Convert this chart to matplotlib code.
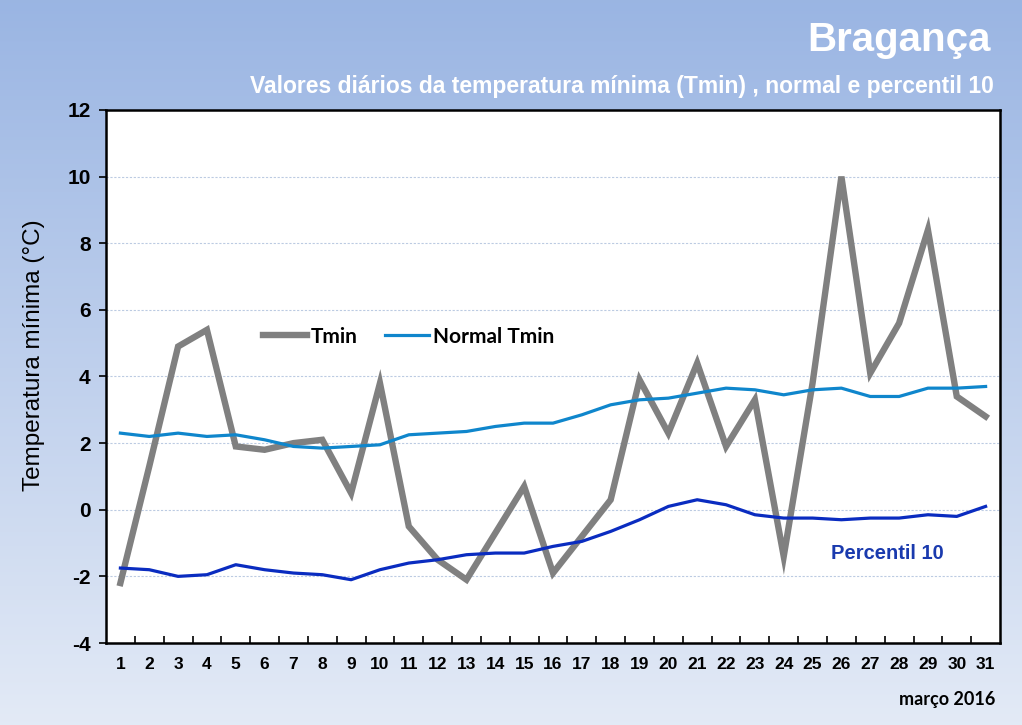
import numpy as np
import matplotlib
matplotlib.use("Agg")
import matplotlib.pyplot as plt
from matplotlib.ticker import FixedLocator

plt.rcParams['font.family'] = ['Liberation Sans', 'DejaVu Sans']
plt.rcParams['axes.unicode_minus'] = False

# daily data, march 2016
days = list(range(1, 32))
tmin = [-2.2, 1.3, 4.9, 5.4, 1.9, 1.8, 2.0, 2.1, 0.5, 3.8,
        -0.5, -1.5, -2.1, -0.7, 0.7, -1.9, -0.8, 0.3, 3.9, 2.3,
        4.4, 1.9, 3.3, -1.4, 3.8, 10.0, 4.1, 5.6, 8.4, 3.4, 2.8]
normal_tmin = [2.3, 2.2, 2.3, 2.2, 2.25, 2.1, 1.9, 1.85, 1.9, 1.95,
               2.25, 2.3, 2.35, 2.5, 2.6, 2.6, 2.85, 3.15, 3.3, 3.35,
               3.5, 3.65, 3.6, 3.45, 3.6, 3.65, 3.4, 3.4, 3.65, 3.65, 3.7]
percentil10 = [-1.75, -1.8, -2.0, -1.95, -1.65, -1.8, -1.9, -1.95, -2.1, -1.8,
               -1.6, -1.5, -1.35, -1.3, -1.3, -1.1, -0.95, -0.65, -0.3, 0.1,
               0.3, 0.15, -0.15, -0.25, -0.25, -0.3, -0.25, -0.25, -0.15, -0.2, 0.1]
y_ticks = [-4, -2, 0, 2, 4, 6, 8, 10, 12]

fig = plt.figure(figsize=(10.22, 7.25), dpi=100)

# background gradient
bg = fig.add_axes([0, 0, 1, 1], zorder=-10)
grad = np.linspace(0, 1, 256).reshape(-1, 1)
top = np.array([0.604, 0.710, 0.890])
bot = np.array([0.890, 0.918, 0.965])
img = top + (bot - top) * grad[:, :, None]
bg.imshow(img, aspect='auto', extent=[0, 1, 0, 1])
bg.axis('off')

ax = fig.add_axes([0.1037, 0.1131, 0.8748, 0.7352])
ax.set_facecolor('white')

ax.plot(days, tmin, color='#808080', lw=4.6, label='Tmin', solid_joinstyle='miter', zorder=3)
ax.plot(days, normal_tmin, color='#0f86cc', lw=2.3, label='Normal Tmin', zorder=4)
ax.plot(days, percentil10, color='#0a2cc0', lw=2.3, zorder=4)

ax.set_xlim(0.5, 31.5)
ax.set_ylim(-4, 12)
ax.set_yticks(y_ticks)
ax.set_xticks(days)
ax.xaxis.set_minor_locator(FixedLocator(np.arange(1.5, 31, 1)))
ax.tick_params(axis='x', which='major', length=0, pad=10, labelsize=12.5)
ax.tick_params(axis='x', which='minor', direction='in', length=5, width=1.2)
ax.tick_params(axis='y', length=5, width=1.2, pad=6, labelsize=15)
for lab in ax.get_xticklabels() + ax.get_yticklabels():
    lab.set_fontweight('bold')

ax.grid(axis='y', color='#bccbe2', linestyle=(0, (2, 1.5)), linewidth=0.8)
ax.set_axisbelow(True)
for sp in ax.spines.values():
    sp.set_linewidth(1.8)

ax.set_ylabel('Temperatura mínima (°C)', fontsize=17.5)
ax.yaxis.set_label_coords(-0.068, 0.54)

leg = ax.legend(loc='center left', bbox_to_anchor=(0.155, 0.575), ncol=2, frameon=False,
                handlelength=2.1, columnspacing=1.3, handletextpad=0.2,
                prop={'family': ['Lato', 'DejaVu Sans'], 'weight': 'bold', 'size': 15})

ax.text(27.6, -1.3, 'Percentil 10', color='#1a3aae', fontsize=14.5,
        fontweight='bold', va='center', ha='center')

fig.text(0.969, 0.945, 'Bragança', color='white', fontsize=29, fontweight='bold',
         ha='right', va='center')
fig.text(0.972, 0.881, 'Valores diários da temperatura mínima (Tmin) , normal e percentil 10',
         color='white', fontsize=16.5, fontweight='bold', ha='right', va='center')
fig.text(0.974, 0.035, 'março 2016', family=['Lato', 'DejaVu Sans'], fontsize=13,
         fontweight='bold', ha='right', va='center')

fig.savefig('out.png', dpi=100)
